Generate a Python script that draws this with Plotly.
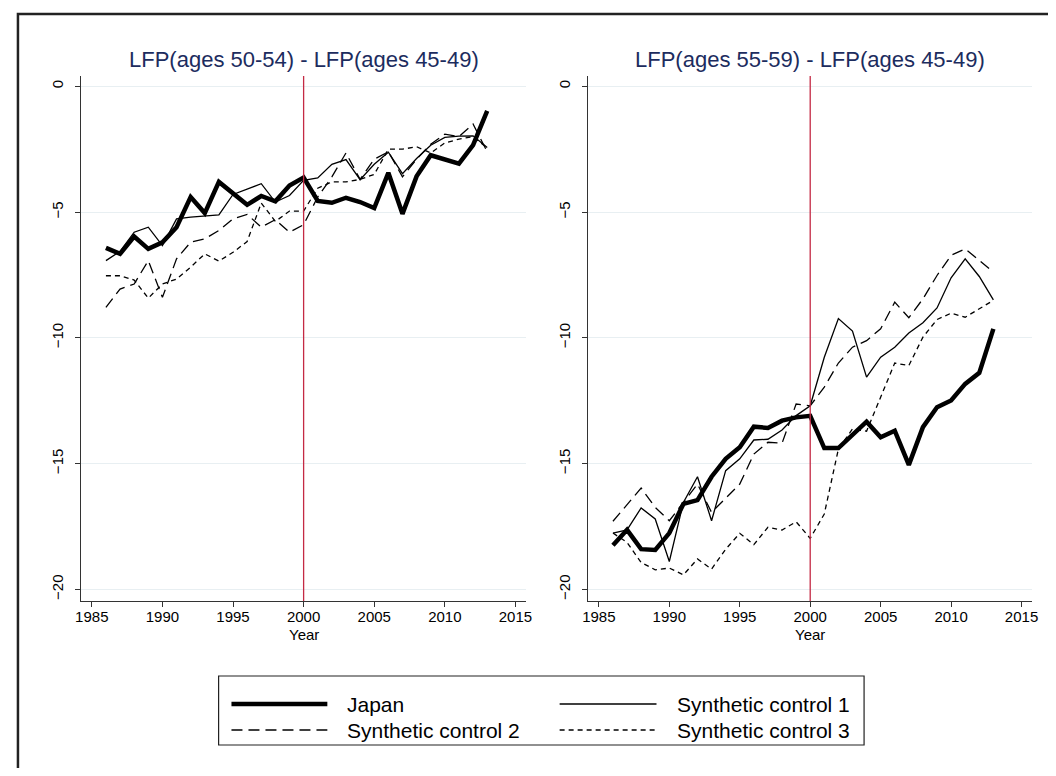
import plotly.graph_objects as go

# data (percentage point gaps)
years = list(range(1986, 2014))

japan_5054 = [-6.42, -6.66, -5.97, -6.46, -6.20, -5.60, -4.40, -5.04, -3.80, -4.24,
              -4.71, -4.36, -4.57, -3.94, -3.63, -4.56, -4.63, -4.43, -4.60, -4.84,
              -3.44, -5.07, -3.58, -2.74, -2.90, -3.07, -2.34, -0.98]
synth1_5054 = [-6.93, -6.56, -5.80, -5.60, -6.33, -5.27, -5.20, -5.16, -5.11, -4.30,
               -4.10, -3.87, -4.60, -4.34, -3.74, -3.64, -3.10, -2.91, -3.71, -3.10,
               -2.62, -3.47, -2.87, -2.34, -2.03, -1.98, -1.97, -2.43]
synth2_5054 = [-8.79, -8.06, -7.86, -6.93, -8.39, -6.86, -6.20, -6.06, -5.73, -5.27,
               -5.09, -5.60, -5.30, -5.80, -5.50, -4.40, -3.60, -2.65, -3.70, -2.90,
               -2.60, -3.60, -2.90, -2.30, -1.90, -2.00, -1.50, -2.60]
synth3_5054 = [-7.53, -7.53, -7.70, -8.42, -7.86, -7.66, -7.19, -6.66, -6.95, -6.60,
               -6.17, -4.64, -5.37, -4.96, -4.96, -4.05, -3.80, -3.80, -3.70, -3.50,
               -2.50, -2.50, -2.40, -2.65, -2.25, -2.10, -2.00, -2.45]

japan_5559 = [-18.24, -17.63, -18.40, -18.43, -17.76, -16.60, -16.45, -15.52, -14.81, -14.35,
              -13.53, -13.58, -13.29, -13.16, -13.10, -14.38, -14.38, -13.85, -13.33, -13.95,
              -13.69, -15.05, -13.55, -12.76, -12.49, -11.83, -11.39, -9.64]
synth1_5559 = [-17.76, -17.63, -16.76, -17.20, -18.89, -16.54, -15.52, -17.27, -15.28, -14.81,
               -14.06, -14.03, -13.66, -13.09, -12.70, -10.77, -9.23, -9.73, -11.56, -10.77,
               -10.37, -9.81, -9.40, -8.81, -7.61, -6.86, -7.56, -8.49]
synth2_5559 = [-17.29, -16.63, -15.97, -16.74, -17.27, -16.54, -15.81, -16.94, -16.38, -15.81,
               -14.62, -14.15, -14.19, -12.63, -12.70, -11.96, -11.00, -10.37, -10.11, -9.64,
               -8.58, -9.20, -8.45, -7.52, -6.72, -6.46, -6.92, -7.39]
synth3_5559 = [-17.76, -18.13, -18.93, -19.22, -19.15, -19.42, -18.79, -19.19, -18.40, -17.77,
               -18.22, -17.53, -17.64, -17.31, -17.97, -17.00, -14.42, -13.62, -13.71, -12.36,
               -11.00, -11.10, -9.97, -9.27, -9.02, -9.18, -8.85, -8.51]

panel_titles = ["LFP(ages 50-54) - LFP(ages 45-49)", "LFP(ages 55-59) - LFP(ages 45-49)"]
series_names = ["Japan", "Synthetic control 1", "Synthetic control 2", "Synthetic control 3"]
treat_year = 2000
x_ticks = [1985, 1990, 1995, 2000, 2005, 2010, 2015]
y_ticks = [0, -5, -10, -15, -20]

# the page body keeps its 8px margin, so the figure is 16px smaller than the window
OFF = 8
W, H = 1040, 760
FONT = "Liberation Sans, Arial, sans-serif"
TITLE_COL = "#1c2c5e"
RED = "#c42a44"
GRID = "#e8eff2"

styles = [dict(color="black", width=4.5, dash="solid"),
          dict(color="black", width=1.3, dash="solid"),
          dict(color="black", width=1.3, dash="11px,6px"),
          dict(color="black", width=1.3, dash="5px,4px")]

def px(x):
    # window pixel -> paper x
    return (x - OFF) / W

def py(y):
    # window pixel -> paper y
    return 1 - (y - OFF) / H

fig = go.Figure()

panels = [[japan_5054, synth1_5054, synth2_5054, synth3_5054],
          [japan_5559, synth1_5559, synth2_5559, synth3_5559]]
domains = [(px(76), px(526)), (px(589), px(1038))]

for i, series in enumerate(panels):
    xa = "x" if i == 0 else "x2"
    ya = "y" if i == 0 else "y2"
    # draw the controls first so Japan sits on top
    for j in [3, 2, 1, 0]:
        fig.add_trace(go.Scatter(x=years, y=series[j], mode="lines",
                                 name=series_names[j], line=styles[j],
                                 xaxis=xa, yaxis=ya, showlegend=False))
    fig.add_shape(type="line", xref=xa, yref=ya + " domain", x0=treat_year, x1=treat_year,
                  y0=0, y1=1, line=dict(color=RED, width=1.3))
    cx = (domains[i][0] + domains[i][1]) / 2
    fig.add_annotation(text=panel_titles[i], x=cx, y=py(60), xref="paper", yref="paper",
                       xanchor="center", yanchor="middle", showarrow=False,
                       font=dict(size=22, color=TITLE_COL, family=FONT))
    fig.add_annotation(text="Year", x=cx, y=py(634), xref="paper", yref="paper",
                       xanchor="center", yanchor="middle", showarrow=False,
                       font=dict(size=15, color="black", family=FONT))

axis_common = dict(showline=True, linecolor="#333333", linewidth=1, ticks="outside",
                   ticklen=5, tickcolor="#333333", zeroline=False,
                   tickfont=dict(size=15, color="black", family=FONT))

for i, (d0, d1) in enumerate(domains):
    sfx = "" if i == 0 else "2"
    fig.update_layout(**{
        "xaxis" + sfx: dict(domain=[d0, d1], range=[1984.25, 2015.75], tickvals=x_ticks,
                            showgrid=False, anchor="y" + sfx, ticklabelstandoff=-3,
                            **axis_common),
        "yaxis" + sfx: dict(domain=[py(601), py(76)], range=[-20.46, 0.41], tickvals=y_ticks,
                            tickangle=-90, showgrid=True, gridcolor=GRID, gridwidth=1,
                            anchor="x" + sfx, ticklabelstandoff=6, **axis_common),
    })

# legend drawn by hand so the samples are as long as in the original
leg_rows = [704, 730]
leg_cols = [(228, 325, 343), (560, 658, 677)]
fig.add_shape(type="rect", xref="paper", yref="paper", x0=px(215), x1=px(868),
              y0=py(745), y1=py(676), line=dict(color="#222222", width=1.2))
for k, name in enumerate(series_names):
    r, c = k // 2, k % 2
    x0, x1, tx = leg_cols[c]
    st = styles[k]
    fig.add_shape(type="line", xref="paper", yref="paper", x0=px(x0), x1=px(x1),
                  y0=py(leg_rows[r]), y1=py(leg_rows[r]),
                  line=dict(color="black", width=st["width"], dash=st["dash"]))
    fig.add_annotation(text=name, x=px(tx), y=py(leg_rows[r]), xref="paper", yref="paper",
                       xanchor="left", yanchor="middle", showarrow=False,
                       font=dict(size=21, color="black", family=FONT))

# outer figure frame
fig.add_shape(type="rect", xref="paper", yref="paper", x0=px(12), x1=px(1070),
              y0=py(790), y1=py(14), line=dict(color="#222222", width=2.5))

fig.update_layout(width=W, height=H, margin=dict(l=0, r=0, t=0, b=0),
                  paper_bgcolor="white", plot_bgcolor="white", showlegend=False,
                  font=dict(family=FONT))

fig.write_html("out.html")
